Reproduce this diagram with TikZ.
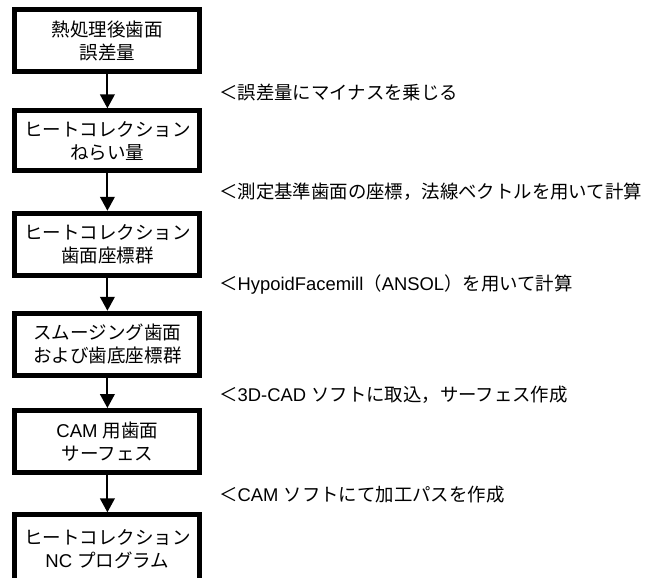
\documentclass[tikz,border=0pt]{standalone}
\usepackage{fontspec}
\setmainfont{Liberation Sans}
\newfontfamily\jpfont{Noto Sans CJK JP}
\usetikzlibrary{arrows.meta}
\newcommand\jt[1]{{\jpfont #1}}
\begin{document}
\begin{tikzpicture}[x=0.75pt,y=-0.75pt,
  flowbox/.style={draw=black, line width=3.75pt, fill=white, minimum width=138.75pt,
    minimum height=46.5pt, align=center, inner sep=0pt,
    font=\fontsize{13.9}{17.3}\selectfont},
  flowarr/.style={line width=1.5pt, -{Triangle[length=10.5pt,width=11pt]}},
  note/.style={anchor=west, inner sep=0pt, font=\fontsize{13.8}{17}\selectfont}]
\useasboundingbox (0,0) rectangle (664,578);
\clip (0,0) rectangle (664,578);
\node[flowbox] (b1) at (107.4,40.75) {\jt{熱処理後歯面}\\\jt{誤差量}};
\node[flowbox, minimum height=45pt] (b2) at (107.4,140.8) {\jt{ヒートコレクション}\\\jt{ねらい量}};
\node[flowbox] (b3) at (107.4,244.25) {\jt{ヒートコレクション}\\\jt{歯面座標群}};
\node[flowbox] (b4) at (107.4,344.25) {\jt{スムージング歯面}\\\jt{および歯底座標群}};
\node[flowbox] (b5) at (107.4,441.5) {CAM \jt{用歯面}\\\jt{サーフェス}};
\node[flowbox, minimum height=52pt] (b6) at (107.4,549.5) {\jt{ヒートコレクション}\\NC \jt{プログラム}};
\draw[flowarr] (b1.south) -- (b2.north);
\draw[flowarr] (b2.south) -- (b3.north);
\draw[flowarr] (b3.south) -- (b4.north);
\draw[flowarr] (b4.south) -- (b5.north);
\draw[flowarr] (b5.south) -- (b6.north);
\node[note] (n1) at (219,92) {\jt{＜誤差量にマイナスを乗じる}};
\node[note] (n2) at (219,192) {\jt{＜測定基準歯面の座標，法線ベクトルを用いて計算}};
\node[note] (n3) at (219,285) {\jt{＜}HypoidFacemill\jt{（}ANSOL\jt{）を用いて計算}};
\node[note] (n4) at (219,395) {\jt{＜}3D-CAD \jt{ソフトに取込，サーフェス作成}};
\node[note] (n5) at (219,495) {\jt{＜}CAM \jt{ソフトにて加工パスを作成}};
\end{tikzpicture}
\end{document}
